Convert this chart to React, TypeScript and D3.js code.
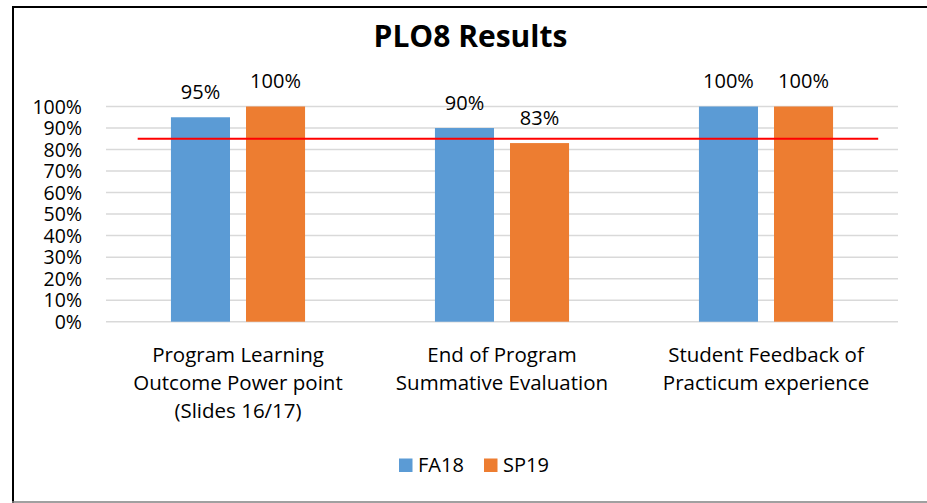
import React from "react";
import * as d3 from "d3";

const categories: string[][] = [
  ["Program Learning", "Outcome Power point", "(Slides 16/17)"],
  ["End of Program", "Summative Evaluation"],
  ["Student Feedback of", "Practicum experience"],
];
const seriesNames = ["FA18", "SP19"];
const fa18 = [0.95, 0.9, 1.0];
const sp19 = [1.0, 0.83, 1.0];
const seriesColors = ["#5B9BD5", "#ED7D31"];
const targetValue = 0.85;
const yTicks = [0, 0.1, 0.2, 0.3, 0.4, 0.5, 0.6, 0.7, 0.8, 0.9, 1.0];
const title = "PLO8 Results";

const W = 927;
const H = 503;
const FONT = "'Open Sans', sans-serif";

export default function App() {
  const plotLeft = 106;
  const plotRight = 898;
  const yTop = 106.5;
  const yBottom = 321.7;

  const idx = categories.map((_, i) => String(i));
  const x0 = d3.scaleBand<string>().domain(idx).range([plotLeft, plotRight]).padding(0);
  const bw = x0.bandwidth();
  const x1 = d3
    .scaleBand<string>()
    .domain(seriesNames)
    .range([bw * 0.246, bw * 0.754])
    .paddingInner(0.2133)
    .paddingOuter(0);
  const y = d3.scaleLinear().domain([0, 1]).range([yBottom, yTop]);
  const pct = d3.format(".0%");
  const series = [fa18, sp19];

  const redX1 = plotLeft + 0.04 * (plotRight - plotLeft);
  const redX2 = plotLeft + 0.975 * (plotRight - plotLeft);

  const legendItems = [
    { name: seriesNames[0], x: 399, color: seriesColors[0] },
    { name: seriesNames[1], x: 484, color: seriesColors[1] },
  ];

  return (
    <svg
      width={W}
      height={H}
      style={{ position: "absolute", left: 0, top: 0, background: "#fff" }}
      fontFamily={FONT}
    >
      <rect x={0} y={0} width={W} height={H} fill="#fff" />
      {/* chart border */}
      <line x1={13} y1={7} x2={W} y2={7} stroke="#000" strokeWidth={2} />
      <line x1={13} y1={6} x2={13} y2={H} stroke="#000" strokeWidth={2} />
      <line x1={12} y1={502} x2={W} y2={502} stroke="#808080" strokeWidth={1.5} />

      <text x={470.5} y={47} textAnchor="middle" fontSize={30} fontWeight="bold" fill="#000">
        {title}
      </text>

      {/* gridlines */}
      {yTicks.map((t) => (
        <line
          key={"g" + t}
          x1={plotLeft}
          x2={plotRight}
          y1={y(t)}
          y2={y(t)}
          stroke="#D9D9D9"
          strokeWidth={1.5}
        />
      ))}
      {yTicks.map((t) => (
        <text key={"t" + t} x={82} y={y(t) + 7} textAnchor="end" fontSize={19.5} fill="#000">
          {pct(t)}
        </text>
      ))}

      {/* bars */}
      {idx.map((c, i) =>
        series.map((s, j) => {
          const bx = (x0(c) as number) + (x1(seriesNames[j]) as number);
          return (
            <g key={c + "-" + j}>
              <rect
                x={bx}
                y={y(s[i])}
                width={x1.bandwidth()}
                height={yBottom - y(s[i])}
                fill={seriesColors[j]}
              />
              <text
                x={bx + x1.bandwidth() / 2}
                y={y(s[i]) - 18.5}
                textAnchor="middle"
                fontSize={20}
                fill="#000"
              >
                {pct(s[i])}
              </text>
            </g>
          );
        })
      )}

      {/* target line */}
      <line x1={redX1} x2={redX2} y1={y(targetValue)} y2={y(targetValue)} stroke="#FF0000" strokeWidth={2} />

      {/* category labels */}
      {idx.map((c, i) => (
        <text
          key={"c" + c}
          x={(x0(c) as number) + bw / 2}
          y={361.7}
          textAnchor="middle"
          fontSize={20.5}
          fill="#000"
        >
          {categories[i].map((line, k) => (
            <tspan key={k} x={(x0(c) as number) + bw / 2} dy={k === 0 ? 0 : 28.3}>
              {line}
            </tspan>
          ))}
        </text>
      ))}

      {/* legend */}
      {legendItems.map((l) => (
        <g key={l.name}>
          <rect x={l.x} y={458.5} width={13.5} height={13.5} fill={l.color} />
          <text x={l.x + 19} y={472} fontSize={20} fill="#000">
            {l.name}
          </text>
        </g>
      ))}
    </svg>
  );
}
